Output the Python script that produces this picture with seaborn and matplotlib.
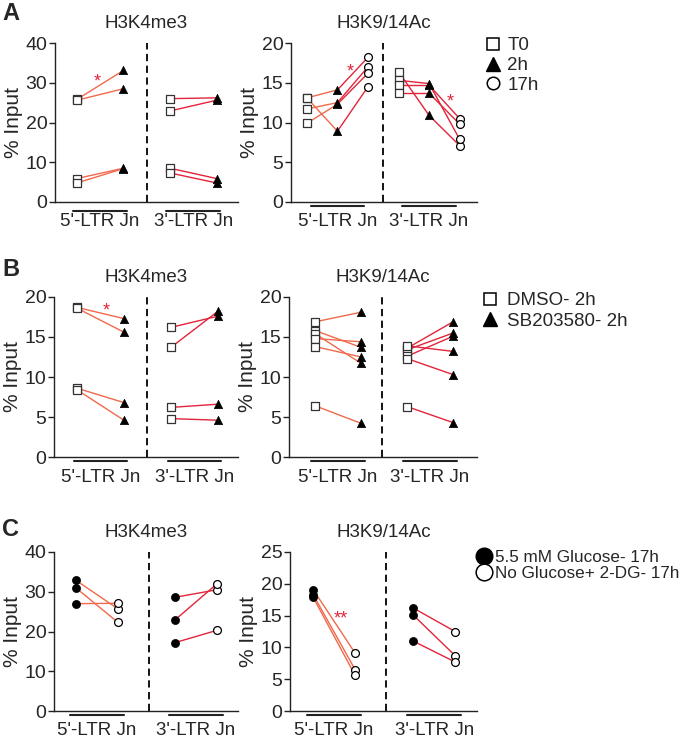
import numpy as np
import pandas as pd
import matplotlib
matplotlib.use("Agg")
import matplotlib.pyplot as plt
from matplotlib.lines import Line2D
from matplotlib.transforms import blended_transform_factory
import seaborn as sns

sns.set_style("white")
plt.rcParams['font.family'] = ['Liberation Sans', 'DejaVu Sans']
plt.rcParams['font.size'] = 13

# ---------------- data ----------------
regions = ["5'-LTR Jn", "3'-LTR Jn"]

# Panel A: H3K4me3 (T0, 2h)
A_K4_5_T0 = [25.8, 25.6, 5.9, 4.8]
A_K4_5_2h = [33.1, 28.5, 8.5, 8.4]
A_K4_3_T0 = [26.0, 22.9, 8.5, 7.3]
A_K4_3_2h = [26.2, 25.6, 5.9, 4.8]
# Panel A: H3K9/14Ac (T0, 2h, 17h)
A_AC_5_T0 = [13.1, 13.1, 11.7, 9.9]
A_AC_5_2h = [14.1, 8.9, 12.5, 12.3]
A_AC_5_17h = [18.2, 14.5, 17.0, 16.2]
A_AC_3_T0 = [16.4, 15.3, 14.7, 13.7]
A_AC_3_2h = [10.9, 14.9, 14.7, 13.7]
A_AC_3_17h = [7.1, 7.9, 10.5, 9.8]

# Panel B: H3K4me3 (DMSO, SB203580)
B_K4_5_DMSO = [18.7, 18.6, 8.6, 8.4]
B_K4_5_SB = [17.3, 15.6, 6.8, 4.6]
B_K4_3_DMSO = [16.2, 13.7, 6.2, 4.8]
B_K4_3_SB = [17.6, 18.2, 6.6, 4.6]
# Panel B: H3K9/14Ac
B_AC_5_DMSO = [16.9, 15.8, 15.4, 14.8, 13.8, 6.4]
B_AC_5_SB = [18.1, 13.7, 11.7, 14.4, 12.5, 4.2]
B_AC_3_DMSO = [13.6, 13.4, 12.6, 13.9, 12.3, 6.3]
B_AC_3_SB = [16.9, 15.5, 15.1, 13.2, 10.3, 4.3]

# Panel C: H3K4me3 (5.5 mM glucose, no glucose + 2-DG)
C_K4_5_Glc = [32.9, 31.0, 27.0]
C_K4_5_No = [25.7, 22.3, 27.1]
C_K4_3_Glc = [28.6, 22.9, 17.2]
C_K4_3_No = [30.5, 32.0, 20.3]
# Panel C: H3K9/14Ac
C_AC_5_Glc = [19.1, 18.3, 17.9]
C_AC_5_No = [9.1, 6.5, 5.6]
C_AC_3_Glc = [16.2, 15.1, 11.0]
C_AC_3_No = [12.5, 8.7, 7.7]

legend_A = ["T0", "2h", "17h"]
legend_B = ["DMSO- 2h", "SB203580- 2h"]
legend_C = ["5.5 mM Glucose- 17h", "No Glucose+ 2-DG- 17h"]

# ---------------- style ----------------
ORANGE = "#f0694c"
RED = "#e3243a"
DARK = "#222222"
MK = {
    "sq": dict(marker="s", color="white", edgecolor="#333333", linewidth=0.9, s=32),
    "tri": dict(marker="^", color="black", edgecolor="black", linewidth=0.5, s=36),
    "oc": dict(marker="o", color="white", edgecolor="black", linewidth=0.9, s=32),
    "fc": dict(marker="o", color="black", edgecolor="black", linewidth=0.5, s=34),
}

FIG_W, FIG_H = 690, 738
fig = plt.figure(figsize=(6.9, 7.38), dpi=100)


def px_axes(x0, x1, ytop, ybot):
    return fig.add_axes([x0 / FIG_W, 1 - ybot / FIG_H, (x1 - x0) / FIG_W, (ybot - ytop) / FIG_H])


def draw_panel(ax, series5, series3, markers, colors5, colors3, gap, xlim, divider,
               ylim, yticks, title, uhw, uoff, stars):
    pts, segs = [], []
    sid = 0
    for r, (series, cols) in enumerate([(series5, colors5), (series3, colors3)]):
        ncond = len(series)
        nrep = len(series[0])
        for c in range(ncond):
            for i in range(nrep):
                pts.append(dict(x=r * gap + c, v=series[c][i], cond=c))
        for c in range(ncond - 1):
            for i in range(nrep):
                for cc in (c, c + 1):
                    segs.append(dict(x=r * gap + cc, v=series[cc][i], seg=sid, col=cols[c]))
                sid += 1
    pts = pd.DataFrame(pts)
    segs = pd.DataFrame(segs)
    sns.lineplot(data=segs, x="x", y="v", units="seg", estimator=None, hue="col",
                 palette={"o": ORANGE, "r": RED}, sort=False, legend=False,
                 linewidth=1.0, ax=ax, zorder=2)
    for c, mk in enumerate(markers):
        sub = pts[pts["cond"] == c]
        sns.scatterplot(data=sub, x="x", y="v", ax=ax, zorder=3, legend=False, **MK[mk])
    ax.set_xlim(*xlim)
    ax.set_ylim(*ylim)
    ax.set_yticks(yticks)
    ax.set_xticks([])
    ax.set_xlabel("")
    ax.set_ylabel("% Input", fontsize=15, labelpad=2)
    ax.set_title(title, fontsize=13.5, pad=11)
    for s in ["top", "right"]:
        ax.spines[s].set_visible(False)
    for s in ["left", "bottom"]:
        ax.spines[s].set_color(DARK)
        ax.spines[s].set_linewidth(1.0)
    ax.tick_params(axis="y", direction="out", length=4, width=1, color=DARK,
                   labelsize=14, pad=1.5, left=True)
    ax.axvline(divider, color="black", linestyle=(0, (4, 2.5)), linewidth=1.3, zorder=1)
    tr = blended_transform_factory(ax.transData, ax.transAxes)
    ncond5 = len(series5)
    centres = [(ncond5 - 1) / 2, gap + (len(series3) - 1) / 2]
    for cx, lab in zip(centres, regions):
        ax.plot([cx - uhw, cx + uhw], [uoff, uoff], transform=tr, color=DARK,
                linewidth=1.5, clip_on=False)
        ax.text(cx, -0.125, lab, transform=tr, ha="center", va="center", fontsize=13.5)
    for sx, sy, txt in stars:
        ax.text(sx, sy, txt, color=RED, ha="center", va="center", fontsize=13)


# ---------------- Row A ----------------
axA1 = px_axes(55, 238, 43, 202)
draw_panel(axA1, [A_K4_5_T0, A_K4_5_2h], [A_K4_3_T0, A_K4_3_2h], ["sq", "tri"],
           ["o"], ["r"], 2, (-0.47, 3.46), 1.5, (0, 40), [0, 10, 20, 30, 40],
           "H3K4me3", 0.58, -0.057, [(0.43, 30.2, "*")])
axA2 = px_axes(291, 477, 43, 202)
draw_panel(axA2, [A_AC_5_T0, A_AC_5_2h, A_AC_5_17h], [A_AC_3_T0, A_AC_3_2h, A_AC_3_17h],
           ["sq", "tri", "oc"], ["o", "r"], ["r", "r"], 3, (-0.52, 5.57), 2.5,
           (0, 20), [0, 5, 10, 15, 20], "H3K9/14Ac", 0.87, -0.028,
           [(1.41, 16.4, "*"), (4.69, 12.6, "*")])

# ---------------- Row B ----------------
axB1 = px_axes(54, 238, 297, 457)
draw_panel(axB1, [B_K4_5_DMSO, B_K4_5_SB], [B_K4_3_DMSO, B_K4_3_SB], ["sq", "tri"],
           ["o"], ["r"], 2, (-0.49, 3.43), 1.5, (0, 20), [0, 5, 10, 15, 20],
           "H3K4me3", 0.57, -0.022, [(0.62, 18.2, "*")])
axB2 = px_axes(289, 477, 297, 457)
draw_panel(axB2, [B_AC_5_DMSO, B_AC_5_SB], [B_AC_3_DMSO, B_AC_3_SB], ["sq", "tri"],
           ["o"], ["r"], 2, (-0.57, 3.52), 1.45, (0, 20), [0, 5, 10, 15, 20],
           "H3K9/14Ac", 0.59, -0.022, [])

# ---------------- Row C ----------------
axC1 = px_axes(54, 238, 552, 711)
draw_panel(axC1, [C_K4_5_Glc, C_K4_5_No], [C_K4_3_Glc, C_K4_3_No], ["fc", "oc"],
           ["o"], ["r"], 2.36, (-0.52, 3.86), 1.74, (0, 40), [0, 10, 20, 30, 40],
           "H3K4me3", 0.64, -0.025, [])
axC2 = px_axes(290, 477, 552, 711)
draw_panel(axC2, [C_AC_5_Glc, C_AC_5_No], [C_AC_3_Glc, C_AC_3_No], ["fc", "oc"],
           ["o"], ["r"], 2.38, (-0.55, 3.90), 1.74, (0, 25), [0, 5, 10, 15, 20, 25],
           "H3K9/14Ac", 0.64, -0.025, [(0.67, 14.5, "**")])

# ---------------- legends ----------------
def leg(ax, handles, labels, x0, y0, spacing, pad, fs=13.5):
    ax.legend(handles, labels, loc="upper left", bbox_to_anchor=(x0 / FIG_W, 1 - y0 / FIG_H),
              bbox_transform=fig.transFigure, frameon=False, fontsize=fs,
              handlelength=1.0, handletextpad=pad, labelspacing=spacing,
              borderpad=0, borderaxespad=0)

hA = [Line2D([], [], ls="none", marker="s", ms=9, mfc="white", mec="black", mew=1.1),
      Line2D([], [], ls="none", marker="^", ms=10, mfc="black", mec="black"),
      Line2D([], [], ls="none", marker="o", ms=9, mfc="white", mec="black", mew=1.1)]
leg(axA2, hA, legend_A, 484, 37, 0.15, 0.25)

hB = [Line2D([], [], ls="none", marker="s", ms=9, mfc="white", mec="black", mew=1.1),
      Line2D([], [], ls="none", marker="^", ms=10, mfc="black", mec="black")]
leg(axB2, hB, legend_B, 481, 292, 0.2, 0.4)

hC = [Line2D([], [], ls="none", marker="o", ms=12, mfc="black", mec="black"),
      Line2D([], [], ls="none", marker="o", ms=12, mfc="white", mec="black", mew=1.1)]
leg(axC2, hC, legend_C, 475, 550, 0.05, 0.2, fs=12.3)

# ---------------- panel letters ----------------
for lab, y in [("A", 2), ("B", 258), ("C", 518)]:
    fig.text(2 / FIG_W, 1 - y / FIG_H, lab, fontsize=17, fontweight="bold", va="top", ha="left")

fig.savefig("out.png", dpi=100)
